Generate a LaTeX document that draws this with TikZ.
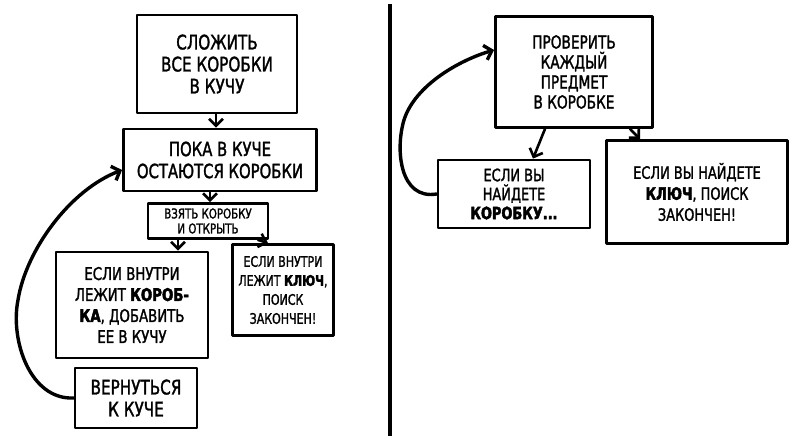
\documentclass[tikz,border=0pt]{standalone}
\usepackage{fontspec}
\setmainfont{DejaVu Sans}[FakeStretch=0.76, UprightFeatures={FakeBold=1.5}, BoldFeatures={FakeBold=2.5}]
\usetikzlibrary{arrows.meta}
\tikzset{
  box/.style={draw, line width=2.8pt, align=center, inner sep=0pt, line join=round},
  arr/.style={line width=2.6pt, line cap=round, -{Straight Barb[length=7pt,width=14pt]}},
  loop/.style={line width=3.4pt, line cap=round, -{Straight Barb[length=7pt,width=15pt]}},
  fa/.style={font=\fontsize{20}{22}\selectfont},
  fb/.style={font=\fontsize{19.5}{22}\selectfont},
  fh/.style={font=\fontsize{20}{22}\selectfont},
  fc/.style={font=\fontsize{13.5}{15}\selectfont},
  fd/.style={font=\fontsize{17.5}{21}\selectfont},
  fg/.style={font=\fontsize{14.5}{19}\selectfont},
  fe/.style={font=\fontsize{18}{20}\selectfont},
  ff/.style={font=\fontsize{17}{19}\selectfont},
  fi/.style={font=\fontsize{17}{21}\selectfont},
}
\begin{document}
\begin{tikzpicture}[x=1pt,y=-1pt]
\useasboundingbox (0,0) rectangle (812,436);
% divider
\draw[line width=4pt] (390,4) coordinate (d1) -- (390,436) coordinate (d2);
% left side
\node[box, fa, minimum width=160pt, minimum height=98pt] (b1) at (217,64) {СЛОЖИТЬ\\ВСЕ КОРОБКИ\\В КУЧУ};
\node[box, fb, minimum width=193pt, minimum height=62pt] (b2) at (220,160) {ПОКА В КУЧЕ\\ОСТАЮТСЯ КОРОБКИ};
\node[box, fc, minimum width=120pt, minimum height=35pt] (b3) at (208,221) {ВЗЯТЬ КОРОБКУ\\И ОТКРЫТЬ};
\node[box, fd, minimum width=152pt, minimum height=106pt] (b4) at (132,305) {ЕСЛИ ВНУТРИ\\ЛЕЖИТ \textbf{КОРОБ-}\\\textbf{КА}, ДОБАВИТЬ\\ЕЕ В КУЧУ};
\node[box, fg, minimum width=101pt, minimum height=91pt] (b5) at (283,290) {ЕСЛИ ВНУТРИ\\ЛЕЖИТ \textbf{КЛЮЧ},\\ПОИСК\\ЗАКОНЧЕН!};
\node[box, fh, minimum width=122pt, minimum height=60pt] (b6) at (136,398) {ВЕРНУТЬСЯ\\К КУЧЕ};
% right side
\node[box, fe, minimum width=157pt, minimum height=111pt] (b7) at (574,72) {ПРОВЕРИТЬ\\КАЖДЫЙ\\ПРЕДМЕТ\\В КОРОБКЕ};
\node[box, ff, minimum width=152pt, minimum height=68pt] (b8) at (514,194) {ЕСЛИ ВЫ\\НАЙДЕТЕ\\\textbf{КОРОБКУ...}};
\node[box, fi, minimum width=181pt, minimum height=103pt] (b9) at (697,192) {ЕСЛИ ВЫ НАЙДЕТЕ\\\textbf{КЛЮЧ}, ПОИСК\\ЗАКОНЧЕН!};
% arrows left
\draw[arr] ([xshift=-1pt]b1.south) -- ([xshift=-1pt]b1.south |- b2.north);
\draw[arr] ([xshift=-10pt]b2.south) -- ([xshift=-10pt]b2.south |- b3.north);
\draw[arr] ([xshift=-30pt]b3.south) -- ([xshift=-30pt]b3.south |- b4.north);
\draw[arr] ([xshift=50pt]b3.south) -- ([xshift=-15pt]b5.north);
\draw[loop] (b6.west) .. controls (30,400) and (10,340) .. (18,300)
  .. controls (26,250) and (70,190) .. ([yshift=-10pt]b2.west);
% arrows right
\draw[arr] ([xshift=-29pt]b7.south) -- ([xshift=19pt]b8.north);
\draw[arr] ([xshift=56pt]b7.south) -- ([xshift=-57pt]b9.north);
\draw[loop] (b8.west) .. controls (400,200) and (395,150) .. (404,120)
  .. controls (415,85) and (460,60) .. ([yshift=22pt]b7.west);
\end{tikzpicture}
\end{document}
